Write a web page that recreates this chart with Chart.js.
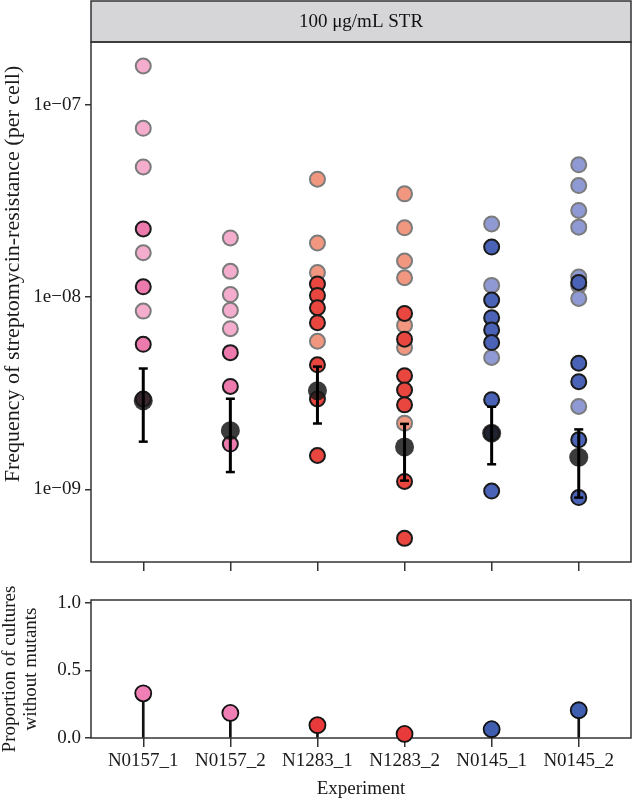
<!DOCTYPE html>
<html>
<head>
<meta charset="utf-8">
<script src="https://cdn.jsdelivr.net/npm/chart.js@4.4.1/dist/chart.umd.min.js"></script>
<style>
  html, body { margin: 0; padding: 0; background: #fff; }
  #wrap { position: relative; width: 632px; height: 800px; }
  canvas { position: absolute; left: 0; top: 0; }
</style>
</head>
<body>
<div id="wrap">
  <canvas id="topChart" width="632" height="800"></canvas>
  <canvas id="bottomChart" width="632" height="800"></canvas>
</div>
<script>
const experiments = ["N0157_1", "N0157_2", "N1283_1", "N1283_2", "N0145_1", "N0145_2"];
const stripLabel = "100 μg/mL STR";
const freqTitle = "Frequency of streptomycin-resistance (per cell)";

// per-culture mutant frequencies, faint (grey outline) and strong (black outline) points
const faintFreq = [
  [1.59e-7, 7.54e-8, 4.75e-8, 1.70e-8, 8.45e-9],
  [2.03e-8, 1.36e-8, 1.03e-8, 8.53e-9, 6.85e-9],
  [4.10e-8, 1.91e-8, 1.34e-8, 5.89e-9],
  [3.44e-8, 2.29e-8, 1.54e-8, 1.26e-8, 7.13e-9, 5.46e-9, 2.21e-9],
  [2.40e-8, 1.15e-8, 4.85e-9],
  [4.87e-8, 3.80e-8, 2.82e-8, 2.31e-8, 1.27e-8, 1.15e-8, 9.84e-9, 2.70e-9],
];
const strongFreq = [
  [2.26e-8, 1.13e-8, 5.68e-9, 2.95e-9],
  [5.14e-9, 3.43e-9, 1.72e-9],
  [1.17e-8, 1.02e-8, 8.80e-9, 7.36e-9, 4.44e-9, 2.95e-9, 1.50e-9],
  [8.22e-9, 6.04e-9, 3.90e-9, 3.29e-9, 2.75e-9, 1.10e-9, 5.56e-10],
  [1.82e-8, 9.64e-9, 7.81e-9, 6.75e-9, 5.80e-9, 2.92e-9, 1.96e-9, 9.80e-10],
  [1.19e-8, 4.53e-9, 3.63e-9, 1.81e-9, 9.06e-10],
];

const meanFreq = [2.89e-9, 2.02e-9, 3.26e-9, 1.66e-9, 1.96e-9, 1.47e-9];
const lowFreq = [1.77e-9, 1.23e-9, 2.20e-9, 1.11e-9, 1.35e-9, 9.06e-10];
const highFreq = [4.25e-9, 2.96e-9, 4.35e-9, 2.19e-9, 2.69e-9, 2.05e-9];
const freqTicks = [1e-9, 1e-8, 1e-7];

const propNoMutants = [0.33, 0.185, 0.095, 0.03, 0.065, 0.205];
const propTicks = [0, 0.5, 1];

const strongColors = ["#ec7aad", "#ec7aad", "#e8463e", "#e8463e", "#4b63b6", "#4b63b6"];
const faintColors = ["#f5adcd", "#f5adcd", "#f2977f", "#f2977f", "#8f99d3", "#8f99d3"];
const lollipopColors = ["#f07fb5", "#f07fb5", "#e83a3a", "#e83a3a", "#3f5eb0", "#3f5eb0"];

Chart.defaults.font.family = "'Liberation Serif', 'DejaVu Serif', serif";
Chart.defaults.font.size = 19;
Chart.defaults.color = "#1a1a1a";

const frame = {
  id: "frame",
  beforeDatasetsDraw(chart) {
    const a = chart.chartArea;
    const ctx = chart.ctx;
    ctx.save();
    ctx.strokeStyle = "#333";
    ctx.lineWidth = 1.5;
    ctx.strokeRect(a.left, a.top, a.right - a.left, a.bottom - a.top);
    ctx.restore();
  },
};

// facet strip + y title (title is centred on panel+strip like the original)
const strip = {
  id: "strip",
  beforeDraw(chart) {
    const a = chart.chartArea;
    const ctx = chart.ctx;
    ctx.save();
    ctx.fillStyle = "#d6d6d8";
    ctx.fillRect(a.left, 1, a.right - a.left, a.top - 1);
    ctx.strokeStyle = "#333";
    ctx.lineWidth = 1.5;
    ctx.strokeRect(a.left, 1, a.right - a.left, a.top - 1);
    ctx.fillStyle = "#111";
    ctx.font = "19px 'Liberation Serif'";
    ctx.textAlign = "center";
    ctx.textBaseline = "middle";
    ctx.fillText(stripLabel, (a.left + a.right) / 2, (a.top + 1) / 2 + 1);

    ctx.translate(13, 274);
    ctx.rotate(-Math.PI / 2);
    ctx.font = "22px 'Liberation Serif'";
    ctx.fillStyle = "#1a1a1a";
    ctx.fillText(freqTitle, 0, 0);
    ctx.restore();
  },
};

function pointsOf(lists) {
  const out = [];
  lists.forEach((vals, i) => vals.forEach((v) => out.push({ x: i + 1, y: v })));
  return out;
}

const xCommon = {
  type: "linear",
  min: 0.4,
  max: 6.6,
  offset: false,
  afterBuildTicks: (scale) => {
    scale.ticks = experiments.map((_, i) => ({ value: i + 1 }));
  },
  grid: { offset: false, drawOnChartArea: false, drawTicks: true, tickLength: 9, color: "#333", lineWidth: 1.5 },
  border: { display: false },
};

const errorBars = experiments.map((_, i) => ({
  type: "line",
  data: [{ x: i + 1, y: lowFreq[i] }, { x: i + 1, y: highFreq[i] }],
  showLine: true,
  borderColor: "#000",
  borderWidth: 3,
  pointStyle: "line",
  pointRadius: 4.5,
  pointBorderWidth: 2.5,
  pointBorderColor: "#000",
  order: 0,
  clip: false,
}));

new Chart(document.getElementById("topChart"), {
  type: "scatter",
  data: {
    datasets: [
      ...errorBars,
      {
        data: meanFreq.map((v, i) => ({ x: i + 1, y: v })),
        pointRadius: 9.5,
        pointBorderWidth: 0,
        backgroundColor: "rgba(25,25,25,0.85)",
        order: 1,
      },
      {
        data: pointsOf(strongFreq),
        pointRadius: 7.5,
        pointBorderWidth: 2,
        borderColor: "#1a1a1a",
        backgroundColor: (c) => strongColors[c.raw.x - 1],
        order: 2,
        clip: false,
      },
      {
        data: pointsOf(faintFreq),
        pointRadius: 7.5,
        pointBorderWidth: 2,
        borderColor: "#7b7b7b",
        backgroundColor: (c) => faintColors[c.raw.x - 1],
        order: 3,
        clip: false,
      },
    ],
  },
  options: {
    responsive: false,
    animation: false,
    events: [],
    layout: { autoPadding: false, padding: { top: 42, right: 1, left: 0, bottom: 0 } },
    plugins: { legend: { display: false }, tooltip: { enabled: false } },
    scales: {
      x: {
        ...xCommon,
        ticks: { display: false },
        afterFit: (scale) => { scale.height = 800 - 562; },
      },
      y: {
        type: "logarithmic",
        min: 4.19e-10,
        max: 2.12e-7,
        afterBuildTicks: (scale) => {
          scale.ticks = freqTicks.map((v) => ({ value: v }));
        },
        afterFit: (scale) => { scale.width = 91; },
        ticks: {
          padding: 4,
          callback: (v) => "1e\u2212" + String(Math.abs(Math.round(Math.log10(v)))).padStart(2, "0"),
        },
        grid: { drawOnChartArea: false, drawTicks: true, tickLength: 6, color: "#333", lineWidth: 1.5 },
        border: { display: false },
      },
    },
  },
  plugins: [strip, frame],
});

new Chart(document.getElementById("bottomChart"), {
  type: "scatter",
  data: {
    datasets: [
      {
        data: propNoMutants.map((v, i) => ({ x: i + 1, y: v })),
        pointRadius: 8,
        pointBorderWidth: 1.8,
        borderColor: "#111",
        backgroundColor: lollipopColors,
        order: 0,
        clip: false,
      },
      {
        type: "bar",
        data: propNoMutants.map((v, i) => ({ x: i + 1, y: v })),
        backgroundColor: "#111",
        barThickness: 2,
        order: 1,
      },
    ],
  },
  options: {
    responsive: false,
    animation: false,
    events: [],
    layout: { autoPadding: false, padding: { top: 600, right: 1, left: 0, bottom: 0 } },
    plugins: { legend: { display: false }, tooltip: { enabled: false } },
    scales: {
      x: {
        ...xCommon,
        ticks: {
          autoSkip: false,
          maxRotation: 0,
          padding: 3,
          callback: (v) => experiments[v - 1],
        },
        title: { display: true, text: "Experiment", padding: { top: 0, bottom: 0 } },
        afterFit: (scale) => { scale.height = 800 - 738; },
      },
      y: {
        min: 0,
        max: 1.02,
        afterBuildTicks: (scale) => {
          scale.ticks = propTicks.map((v) => ({ value: v }));
        },
        afterFit: (scale) => { scale.width = 91; },
        ticks: { padding: 4, callback: (v) => v.toFixed(1) },
        grid: { drawOnChartArea: false, drawTicks: true, tickLength: 6, color: "#333", lineWidth: 1.5 },
        border: { display: false },
        title: {
          display: true,
          text: ["Proportion of cultures", "without mutants"],
          padding: { top: 0, bottom: 0 },
          font: { lineHeight: 1.1 },
        },
      },
    },
  },
  plugins: [frame],
});
</script>
</body>
</html>
